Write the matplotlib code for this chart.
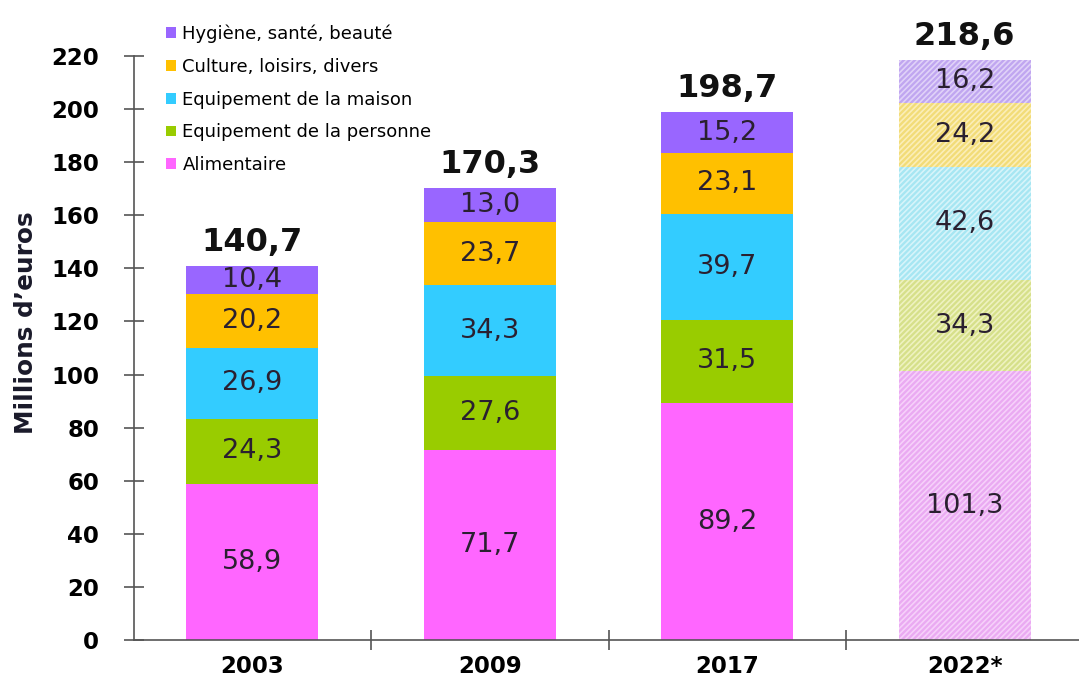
import numpy as np
import matplotlib.pyplot as plt
from matplotlib.patches import Patch

years = ['2003', '2009', '2017', '2022*']
categories = ['Alimentaire', 'Equipement de la personne', 'Equipement de la maison',
              'Culture, loisirs, divers', 'Hygiène, santé, beauté']
alimentaire = [58.9, 71.7, 89.2, 101.3]
personne = [24.3, 27.6, 31.5, 34.3]
maison = [26.9, 34.3, 39.7, 42.6]
culture = [20.2, 23.7, 23.1, 24.2]
hygiene = [10.4, 13.0, 15.2, 16.2]
totals = [140.7, 170.3, 198.7, 218.6]

colors = ['#ff66ff', '#99cc00', '#33ccff', '#ffc000', '#9966ff']
light = ['#eaaaf2', '#d6e08a', '#a6e6f2', '#f2dc78', '#c0a6f0']
hatch_col = ['#f6d0fa', '#eef2c0', '#d6f4fa', '#fbeeb8', '#e0d2f8']

plt.rcParams['font.family'] = 'DejaVu Sans'
plt.rcParams['hatch.linewidth'] = 1.2

fig = plt.figure(figsize=(10.79, 6.84), dpi=100)
ax = fig.add_axes([0.124, 0.0643, 0.880, 0.854])

x = np.arange(len(years))
w = 0.556
series = [alimentaire, personne, maison, culture, hygiene]
bottom = np.zeros(len(years))
for k, vals in enumerate(series):
    for i, v in enumerate(vals):
        if i == 3:
            ax.bar(x[i], v, w, bottom=bottom[i], color=light[k], edgecolor=hatch_col[k],
                   linewidth=0, hatch='//////')
        else:
            ax.bar(x[i], v, w, bottom=bottom[i], color=colors[k], linewidth=0)
        ax.text(x[i], bottom[i] + v / 2, f'{v:.1f}'.replace('.', ','), ha='center', va='center',
                fontsize=19.5, color='#2a2030')
    bottom += np.array(vals)

for i, t in enumerate(totals):
    ax.text(x[i], t + 3, f'{t:.1f}'.replace('.', ','), ha='center', va='bottom',
            fontsize=23, fontweight='bold', color='#111111')

ax.set_xlim(-0.5, 3.5)
ax.set_ylim(0, 220)
ax.set_yticks(range(0, 221, 20))
ax.set_yticklabels([str(v) for v in range(0, 221, 20)], fontsize=16.5, fontweight='bold')
ax.set_xticks(x)
ax.set_xticklabels(years, fontsize=16.5, fontweight='bold')
ax.set_xticks([0.5, 1.5, 2.5], minor=True)
ax.tick_params(axis='x', which='major', length=0, pad=11)
ax.tick_params(axis='x', which='minor', direction='inout', length=14, width=1.2, color='#555555')
ax.tick_params(axis='y', direction='inout', length=14, width=1.2, color='#555555', pad=18)
for s in ['top', 'right']:
    ax.spines[s].set_visible(False)
for s in ['left', 'bottom']:
    ax.spines[s].set_color('#555555')
    ax.spines[s].set_linewidth(1.2)

ax.set_ylabel('Millions d’euros', fontsize=17.8, fontweight='bold', color='#1a1a2a')
ax.yaxis.set_label_coords(-0.101, 0.543)

handles = [Patch(facecolor=colors[k], label=categories[k]) for k in range(4, -1, -1)]
fig.legend(handles=handles, loc='upper left', bbox_to_anchor=(0.139, 0.988), frameon=False,
           fontsize=13, handlelength=0.55, handleheight=0.55, handletextpad=0.35,
           labelspacing=0.82)

fig.savefig('out.png', dpi=100)
